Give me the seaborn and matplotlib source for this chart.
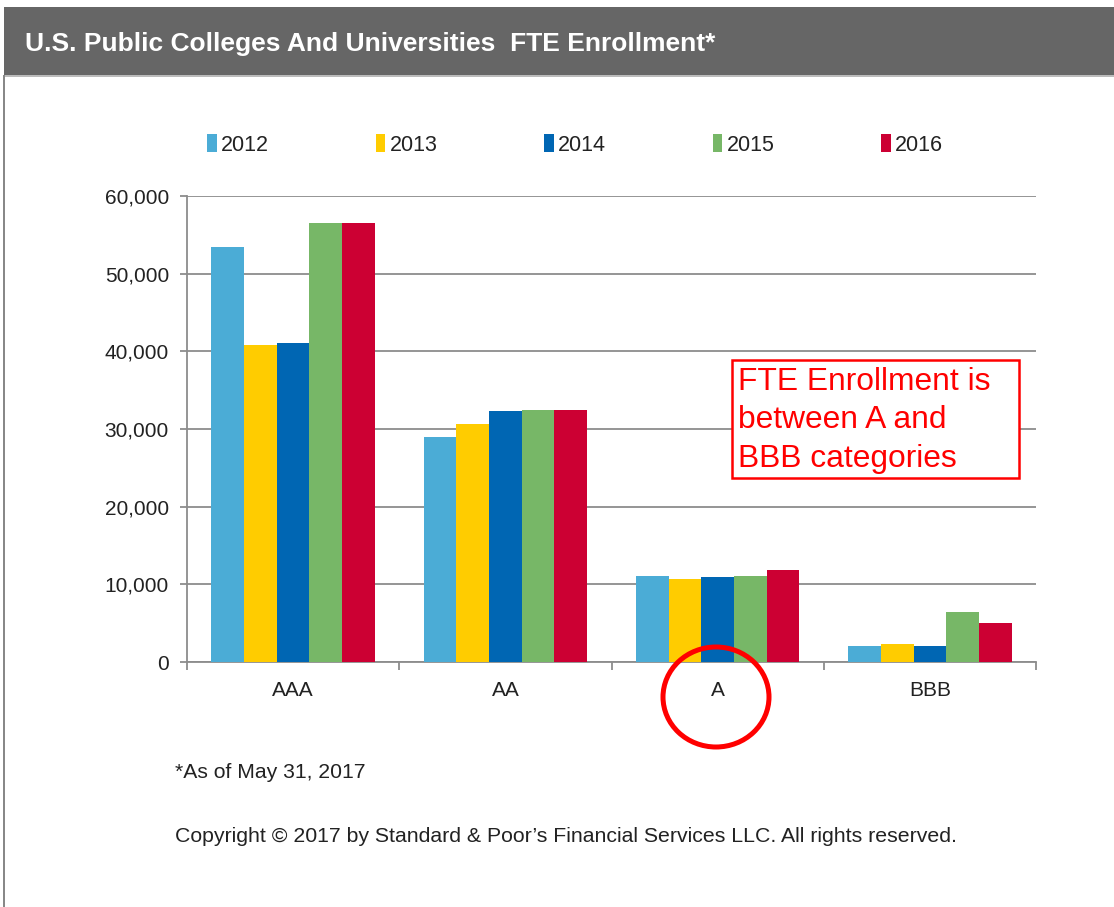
import matplotlib
matplotlib.use("Agg")
import matplotlib.pyplot as plt
from matplotlib.patches import Rectangle, Ellipse
from matplotlib.ticker import FuncFormatter, FixedLocator
import seaborn as sns
import pandas as pd

categories = ["AAA", "AA", "A", "BBB"]
years = ["2012", "2013", "2014", "2015", "2016"]
v2012 = [53400, 29000, 11100, 2100]
v2013 = [40800, 30700, 10700, 2300]
v2014 = [41100, 32300, 10900, 2100]
v2015 = [56500, 32500, 11100, 6500]
v2016 = [56500, 32500, 11900, 5000]
colors = ["#4BACD6", "#FFCC00", "#0066B3", "#77B767", "#CC0033"]
note_lines = ["FTE Enrollment is", "between A and", "BBB categories"]

rows = []
for y, vals in zip(years, [v2012, v2013, v2014, v2015, v2016]):
    for c, v in zip(categories, vals):
        rows.append({"Rating": c, "Year": y, "FTE": v})
df = pd.DataFrame(rows)

sns.set_theme(style="white")
plt.rcParams["font.family"] = ["Liberation Sans", "DejaVu Sans"]

W, H = 1114, 907
fig = plt.figure(figsize=(W / 100, H / 100), dpi=100)
fig.patch.set_facecolor("white")

def fx(px):
    return px / W

def fy(py):
    return 1 - py / H

# header bar
fig.patches.append(Rectangle((fx(4), fy(75)), fx(1114 - 4), 68 / H, transform=fig.transFigure,
                             facecolor="#666666", edgecolor="none", zorder=0))
fig.patches.append(Rectangle((fx(4), fy(77)), fx(1114 - 4), 2 / H, transform=fig.transFigure,
                             facecolor="#BBBBBB", edgecolor="none", zorder=0))
# left border
fig.patches.append(Rectangle((fx(3), 0), 2 / W, fy(75), transform=fig.transFigure,
                             facecolor="#888888", edgecolor="none", zorder=0))
fig.text(fx(25), fy(44), "U.S. Public Colleges And Universities  FTE Enrollment*",
         color="white", fontsize=19, fontweight="bold", va="center", ha="left")

ax = fig.add_axes([fx(187), fy(662), fx(1036) - fx(187), (662 - 196) / H])
sns.barplot(data=df, x="Rating", y="FTE", hue="Year", order=categories, hue_order=years,
            palette=colors, width=0.77, gap=0, linewidth=0, saturation=1, ax=ax, zorder=3)

ax.set_ylim(0, 60000)
ax.set_xlim(-0.5, 3.5)
ax.set_yticks(range(0, 60001, 10000))
ax.yaxis.set_major_formatter(FuncFormatter(lambda v, p: f"{int(v):,}"))
ax.grid(axis="y", color="#8C8C8C", linewidth=1.3, zorder=0)
ax.set_axisbelow(True)
ax.set_xlabel("")
ax.set_ylabel("")
for s in ["top", "right"]:
    ax.spines[s].set_visible(False)
for s in ["left", "bottom"]:
    ax.spines[s].set_color("#8C8C8C")
    ax.spines[s].set_linewidth(1.3)
ax.tick_params(axis="y", which="major", left=True, length=5, width=1.3, color="#8C8C8C",
               labelsize=15, labelcolor="#222222", pad=8)
ax.tick_params(axis="x", which="major", bottom=False, length=0, labelsize=15,
               labelcolor="#222222", pad=14)
ax.xaxis.set_minor_locator(FixedLocator([-0.5, 0.5, 1.5, 2.5, 3.5]))
ax.tick_params(axis="x", which="minor", bottom=True, length=6, width=1.3, color="#8C8C8C")

handles, labels = ax.get_legend_handles_labels()
ax.legend(handles, labels, ncol=5, loc="center left", bbox_to_anchor=(fx(207), fy(145)),
          bbox_transform=fig.transFigure, frameon=False, fontsize=15.5, handlelength=0.45,
          handleheight=0.9, handletextpad=0.2, columnspacing=4.95, borderaxespad=0,
          borderpad=0, labelcolor="#222222")

# annotation box
fig.patches.append(Rectangle((fx(732), fy(478)), (1019 - 732) / W, (478 - 360) / H,
                             transform=fig.transFigure, facecolor="white", edgecolor="#FF0000",
                             linewidth=1.8, zorder=5))
for line, base in zip(note_lines, [390, 428.5, 467]):
    fig.text(fx(738), fy(base), line, color="#FF0000", fontsize=22.9, va="baseline",
             ha="left", zorder=6)
fig.patches.append(Ellipse((fx(716), fy(697)), 106 / W, 100 / H, transform=fig.transFigure,
                           facecolor="none", edgecolor="#FF0000", linewidth=3.6, zorder=6))

fig.text(fx(175), fy(772), "*As of May 31, 2017", fontsize=15.2, color="#222222", va="center",
         ha="left")
fig.text(fx(175), fy(836), "Copyright \u00a9 2017 by Standard & Poor\u2019s Financial Services LLC. All rights reserved.",
         fontsize=15.3, color="#222222", va="center", ha="left")

fig.savefig("out.png", dpi=100, facecolor="white")
